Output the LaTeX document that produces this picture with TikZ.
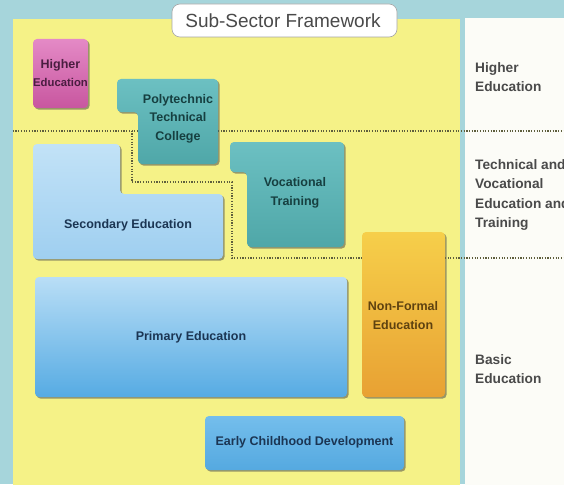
\documentclass[tikz,border=0pt]{standalone}
\usepackage{fontspec}
\setmainfont{Liberation Sans}
\definecolor{bgblue}{HTML}{A6D5DB}
\definecolor{panelyellow}{HTML}{F5F287}
\definecolor{panelwhite}{HTML}{FCFCF7}
\definecolor{pinktop}{HTML}{E48AC6}
\definecolor{pinkbot}{HTML}{C8569F}
\definecolor{tealtop}{HTML}{6CC0C2}
\definecolor{tealbot}{HTML}{4FA7A8}
\definecolor{sectop}{HTML}{C2E2F7}
\definecolor{secbot}{HTML}{9FCFF0}
\definecolor{primtop}{HTML}{B9DEF6}
\definecolor{primbot}{HTML}{56ABE3}
\definecolor{ecdtop}{HTML}{74BEEC}
\definecolor{ecdbot}{HTML}{55A9E0}
\definecolor{nftop}{HTML}{F6CF4A}
\definecolor{nfbot}{HTML}{E8A133}
\definecolor{dotcol}{HTML}{5E5E3C}
\definecolor{labelgray}{HTML}{4A4A4A}
\definecolor{navy}{HTML}{1B3553}
\definecolor{tealtext}{HTML}{163F40}
\definecolor{pinktext}{HTML}{4A1D40}
\definecolor{nftext}{HTML}{5E4210}
\begin{document}
\begin{tikzpicture}[x=1pt,y=-1pt,
  boxtext/.style={font=\bfseries\fontsize{12.5}{18.5}\selectfont, align=center, inner sep=0pt},
  sidelabel/.style={font=\bfseries\fontsize{13.7}{19.3}\selectfont, align=left, anchor=west, inner sep=0pt, text=labelgray},
  separator/.style={line width=1.7pt, dotcol, dash pattern=on 1.2pt off 1.5pt},
  boxshadow/.style={fill=black!70, opacity=0.55, rounded corners=4pt, shift={(1.6,1.6)}},
  boxshape/.style={rounded corners=4pt},
  pinkbox/.style={boxshape, top color=pinktop, bottom color=pinkbot},
  tealbox/.style={boxshape, top color=tealtop, bottom color=tealbot},
  secbox/.style={boxshape, top color=sectop, bottom color=secbot},
  primbox/.style={boxshape, top color=primtop, bottom color=primbot},
  ecdbox/.style={boxshape, top color=ecdtop, bottom color=ecdbot},
  nfbox/.style={boxshape, top color=nftop, bottom color=nfbot},
  ]
% canvas and page frame
\clip (0,0) rectangle (564,484);
\fill[bgblue] (0,0) rectangle (564,484);
\fill[panelyellow] (12.7,19) rectangle (460,490);
\fill[panelwhite] (465,18) rectangle (570,490);

% title tab
\draw[fill=white, draw=black!35, line width=0.6pt, rounded corners=8pt] (172,4) rectangle (397,37);
\node[font=\fontsize{19}{21}\selectfont, text=labelgray, inner sep=0pt] (title) at (283,20.5) {Sub-Sector Framework};

% level separators
\draw[separator] (12.7,130.7) -- (564,130.7);
\draw[separator] (132,130.7) -- (132,182) -- (232,182) -- (232,258) -- (564,258);

% higher education
\fill[boxshadow] (33,39) rectangle (88,108);
\shade[pinkbox] (33,39) rectangle (88,108);
\node[boxtext, text=pinktext] (he) at (60.5,73) {{\fontsize{12.5}{18}\selectfont Higher}\\{\fontsize{11.3}{18}\selectfont Education}};

% polytechnic technical college
\fill[boxshadow] (117,79) -- (218,79) -- (218,164) -- (138,164) -- (138,112) -- (117,112) -- cycle;
\shade[tealbox] (117,79) -- (218,79) -- (218,164) -- (138,164) -- (138,112) -- (117,112) -- cycle;
\node[boxtext, text=tealtext] (ptc) at (178,118.5) {Polytechnic\\Technical\\College};

% vocational training
\fill[boxshadow] (230,142) -- (344,142) -- (344,247) -- (247,247) -- (247,172) -- (230,172) -- cycle;
\shade[tealbox] (230,142) -- (344,142) -- (344,247) -- (247,247) -- (247,172) -- (230,172) -- cycle;
\node[boxtext, text=tealtext] (vt) at (295,193) {Vocational\\Training};

% secondary education
\fill[boxshadow] (33,144) -- (120,144) -- (120,194) -- (223,194) -- (223,259) -- (33,259) -- cycle;
\shade[secbox] (33,144) -- (120,144) -- (120,194) -- (223,194) -- (223,259) -- (33,259) -- cycle;
\node[boxtext, text=navy] (se) at (128,225.5) {Secondary Education};

% primary education
\fill[boxshadow] (35,277) rectangle (347,397);
\shade[primbox] (35,277) rectangle (347,397);
\node[boxtext, text=navy] (pe) at (191,337.5) {Primary Education};

% non-formal education
\fill[boxshadow] (362,232) rectangle (445,397);
\shade[nfbox] (362,232) rectangle (445,397);
\node[boxtext, text=nftext] (nfe) at (403,315.5) {Non-Formal\\Education};

% early childhood development
\fill[boxshadow] (205,416) rectangle (404,470);
\shade[ecdbox] (205,416) rectangle (404,470);
\node[boxtext, text=navy] (ecd) at (304.5,442.5) {Early Childhood Development};

% level labels
\node[sidelabel] (lhe) at (475,77) {Higher\\Education};
\node[sidelabel] (ltvet) at (475,195) {Technical and\\Vocational\\Education and\\Training};
\node[sidelabel] (lbe) at (475,369) {Basic\\Education};
\end{tikzpicture}
\end{document}
